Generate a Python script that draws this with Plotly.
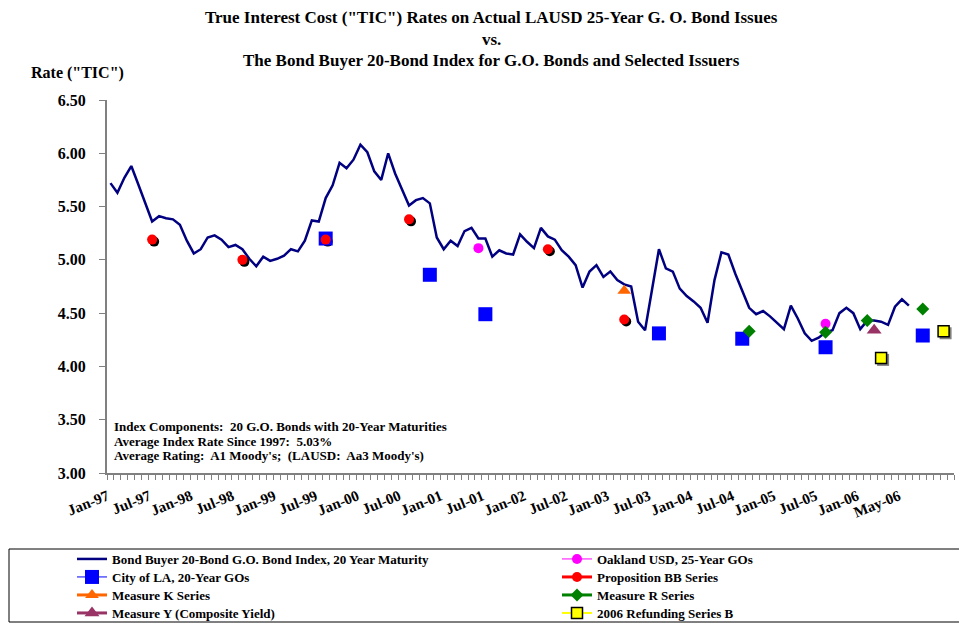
import plotly.graph_objects as go

# ---------------- data ----------------
index_rate = [
    5.72, 5.63, 5.77, 5.88, 5.71, 5.53, 5.36, 5.41, 5.39, 5.38,
    5.33, 5.18, 5.06, 5.10, 5.21, 5.23, 5.19, 5.12, 5.14, 5.10,
    5.01, 4.94, 5.03, 4.99, 5.01, 5.04, 5.10, 5.08, 5.18, 5.37,
    5.36, 5.58, 5.70, 5.91, 5.86, 5.94, 6.08, 6.01, 5.83, 5.75,
    6.00, 5.81, 5.66, 5.51, 5.56, 5.58, 5.53, 5.21, 5.10, 5.18,
    5.13, 5.27, 5.30, 5.20, 5.20, 5.03, 5.09, 5.06, 5.05, 5.24,
    5.17, 5.11, 5.30, 5.22, 5.19, 5.09, 5.03, 4.95, 4.74, 4.89,
    4.95, 4.84, 4.89, 4.81, 4.77, 4.75, 4.42, 4.34, 4.72, 5.10,
    4.92, 4.89, 4.73, 4.66, 4.61, 4.55, 4.41, 4.81, 5.07, 5.05,
    4.87, 4.71, 4.55, 4.49, 4.52, 4.47, 4.41, 4.35, 4.57, 4.45,
    4.31, 4.24, 4.27, 4.32, 4.34, 4.50, 4.55, 4.50, 4.35, 4.43,
    4.43, 4.42, 4.39, 4.56, 4.63, 4.57,
]
n_categories = 122  # monthly categories on the axis

tick_labels = ["Jan-97", "Jul-97", "Jan-98", "Jul-98", "Jan-99", "Jul-99", "Jan-00",
               "Jul-00", "Jan-01", "Jul-01", "Jan-02", "Jul-02", "Jan-03", "Jul-03",
               "Jan-04", "Jul-04", "Jan-05", "Jul-05", "Jan-06", "May-06"]
tick_step = 6

city_la_idx = [31, 46, 54, 79, 91, 103, 117]
city_la = [5.20, 4.86, 4.49, 4.31, 4.26, 4.18, 4.29]
oakland_idx = [53, 103]
oakland = [5.11, 4.40]
prop_bb_idx = [6, 19, 31, 43, 63, 74]
prop_bb = [5.19, 5.00, 5.19, 5.38, 5.10, 4.44]
measure_k_idx = [74]
measure_k = [4.71]
measure_r_idx = [92, 103, 109, 117]
measure_r = [4.33, 4.32, 4.43, 4.54]
measure_y_idx = [110]
measure_y = [4.34]
refunding_idx = [111, 120]
refunding = [4.08, 4.33]

# ---------------- layout geometry ----------------
# the page places the figure 8px in from the top-left corner
OFF = 8
W, H = 967 - OFF, 624 - OFF
ML, MT = 107 - OFF, 100 - OFF
MR, MB = 967 - 954, 624 - 473
PW, PH = W - ML - MR, H - MT - MB
X_RANGE = [-0.5, n_categories - 0.5]
Y_RANGE = [3.0, 6.5]
FONT = "Liberation Serif"


def px_x(px):
    return (px - OFF - ML) / PW


def px_y(py):
    return 1 - (py - OFF - MT) / PH


def full(idx, vals):
    arr = [None] * n_categories
    for i, v in zip(idx, vals):
        arr[i] = v
    return arr


xs = list(range(n_categories))

fig = go.Figure()

fig.add_trace(go.Scatter(
    x=list(range(len(index_rate))), y=index_rate, mode="lines",
    name="Bond Buyer 20-Bond G.O. Bond Index, 20 Year Maturity",
    line=dict(color="#000080", width=2.5), legend="legend"))

# shadows (drawn on a slightly shifted overlay)
fig.add_trace(go.Scatter(x=xs, y=full(prop_bb_idx, prop_bb), mode="markers",
                         marker=dict(color="black", size=10), showlegend=False,
                         xaxis="x2", yaxis="y2", hoverinfo="skip"))
fig.add_trace(go.Scatter(x=xs, y=full(refunding_idx, refunding), mode="markers",
                         marker=dict(color="#808080", size=12, symbol="square"), showlegend=False,
                         xaxis="x2", yaxis="y2", hoverinfo="skip"))

series = [
    ("City of LA, 20-Year GOs", city_la_idx, city_la, "#0000FF", "square", 14, 1, None, "legend3"),
    ("Oakland USD, 25-Year GOs", oakland_idx, oakland, "#FF00FF", "circle", 10, 1, None, "legend2"),
    ("Proposition BB Series", prop_bb_idx, prop_bb, "#FF0000", "circle", 10, 3, None, "legend4"),
    ("Measure K Series", measure_k_idx, measure_k, "#FF6600", "triangle-up", 12, 3, None, "legend5"),
    ("Measure R Series", measure_r_idx, measure_r, "#008000", "diamond", 10, 3, None, "legend6"),
    ("Measure Y (Composite Yield)", measure_y_idx, measure_y, "#993366", "triangle-up", 13, 3, None, "legend7"),
    ("2006 Refunding Series B", refunding_idx, refunding, "#FFFF00", "square", 11, 2, "black", "legend8"),
]
for name, idx, vals, col, sym, size, lw, edge, lg in series:
    mk = dict(color=col, symbol=sym, size=size)
    if edge:
        mk["line"] = dict(color=edge, width=1.5)
    fig.add_trace(go.Scatter(x=xs, y=full(idx, vals), mode="lines+markers", name=name,
                             marker=mk, line=dict(color=col, width=lw), connectgaps=False,
                             xaxis="x3", yaxis="y3", legend=lg))

# ---------------- axes ----------------
shift_x = 2 * (X_RANGE[1] - X_RANGE[0]) / PW
shift_y = 2 * (Y_RANGE[1] - Y_RANGE[0]) / PH

LEG_FONT = dict(family=FONT, size=13, weight="bold")

fig.update_layout(
    width=W, height=H,
    margin=dict(l=ML, r=MR, t=MT, b=MB, pad=0, autoexpand=False),
    paper_bgcolor="white", plot_bgcolor="white",
    font=dict(family=FONT, color="black"),
    xaxis=dict(range=X_RANGE, showgrid=False, zeroline=False, automargin=False,
               showline=True, linecolor="#808080", linewidth=2,
               tickmode="array", tickvals=[i * tick_step for i in range(len(tick_labels))],
               ticktext=tick_labels, ticks="", tickangle=-22,
               tickfont=dict(family=FONT, size=15, weight="bold"),
               ticklabelstandoff=7, ticklabelshift=-3,
               minor=dict(tickmode="linear", tick0=-0.5, dtick=1, ticks="outside",
                          ticklen=5, tickcolor="#808080", tickwidth=1, showgrid=False)),
    yaxis=dict(range=Y_RANGE, showgrid=False, zeroline=False, automargin=False,
               showline=True, linecolor="#808080", linewidth=2,
               tickmode="linear", tick0=3.0, dtick=0.5, tickformat=".2f",
               ticks="outside", ticklen=6, tickcolor="#808080", tickwidth=1,
               tickfont=dict(family=FONT, size=16, weight="bold"),
               ticklabelstandoff=10),
    xaxis2=dict(range=[X_RANGE[0] - shift_x, X_RANGE[1] - shift_x], overlaying="x", visible=False),
    yaxis2=dict(range=[Y_RANGE[0] + shift_y, Y_RANGE[1] + shift_y], overlaying="y", visible=False),
    xaxis3=dict(range=X_RANGE, overlaying="x", visible=False),
    yaxis3=dict(range=Y_RANGE, overlaying="y", visible=False),
    showlegend=True,
)

# one legend box per entry: two columns, four rows
legend_cols = [72, 557]
legend_rows = [559, 577, 595, 613]
legend_names = ["legend", "legend2", "legend3", "legend4",
                "legend5", "legend6", "legend7", "legend8"]
for k, lname in enumerate(legend_names):
    fig.update_layout({lname: dict(x=px_x(legend_cols[k % 2]), y=px_y(legend_rows[k // 2]),
                                   xanchor="left", yanchor="middle",
                                   bgcolor="rgba(0,0,0,0)", font=LEG_FONT,
                                   borderwidth=0)})

# legend frame
fig.add_shape(type="rect", xref="paper", yref="paper",
              x0=px_x(9), x1=px_x(961), y0=px_y(622), y1=px_y(549),
              line=dict(color="black", width=1), fillcolor="rgba(0,0,0,0)")

# ---------------- text ----------------
title_lines = ['True Interest Cost ("TIC") Rates on Actual LAUSD 25-Year G. O. Bond Issues',
               'vs.',
               'The Bond Buyer 20-Bond Index for G.O. Bonds and Selected Issuers']
title_y = [17, 39, 61]
for t, py in zip(title_lines, title_y):
    fig.add_annotation(text=t, xref="paper", yref="paper", x=px_x(491), y=px_y(py),
                       xanchor="center", yanchor="middle", showarrow=False,
                       font=dict(family=FONT, size=17, weight="bold"))

fig.add_annotation(text='Rate ("TIC")', xref="paper", yref="paper", x=px_x(29), y=px_y(73),
                   xanchor="left", yanchor="middle", showarrow=False,
                   font=dict(family=FONT, size=16, weight="bold"))

info_lines = ["Index Components:  20 G.O. Bonds with 20-Year Maturities",
              "Average Index Rate Since 1997:  5.03%",
              "Average Rating:  A1 Moody's;  (LAUSD:  Aa3 Moody's)"]
info_y = [426, 441, 455]
for t, py in zip(info_lines, info_y):
    fig.add_annotation(text=t, xref="paper", yref="paper", x=px_x(112), y=px_y(py),
                       xanchor="left", yanchor="middle", showarrow=False,
                       font=dict(family=FONT, size=13, weight="bold"))

fig.write_html("out.html")
